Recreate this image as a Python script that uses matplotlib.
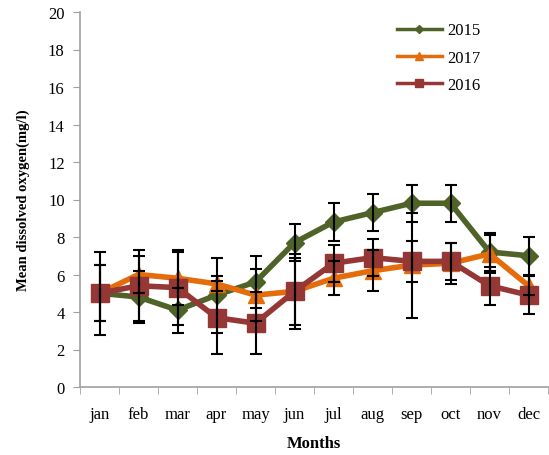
import matplotlib
matplotlib.use("Agg")
import matplotlib.pyplot as plt
from matplotlib.lines import Line2D
import numpy as np

months = ["jan", "feb", "mar", "apr", "may", "jun", "jul", "aug", "sep", "oct", "nov", "dec"]
y2015 = [5.0, 4.8, 4.1, 4.9, 5.6, 7.7, 8.8, 9.3, 9.8, 9.8, 7.2, 7.0]
e2015 = [2.2, 1.4, 1.2, 2.0, 1.4, 1.0, 1.0, 1.0, 1.0, 1.0, 1.0, 1.0]
y2017 = [5.0, 6.0, 5.8, 5.5, 4.9, 5.1, 5.8, 6.2, 6.5, 6.6, 7.1, 5.4]
e2017 = [1.5, 1.0, 1.4, 0.4, 1.4, 1.8, 0.9, 1.1, 2.8, 1.1, 1.0, 0.5]
y2016 = [5.0, 5.4, 5.3, 3.7, 3.4, 5.1, 6.6, 6.9, 6.7, 6.7, 5.4, 4.9]
e2016 = [1.5, 1.9, 2.0, 1.95, 1.65, 2.0, 1.0, 1.0, 1.1, 1.0, 1.0, 1.0]

plt.rcParams['font.family'] = ['Liberation Serif', 'DejaVu Serif']

fig = plt.figure(figsize=(5.49, 4.56), dpi=100)
ax = fig.add_axes([80/549, 68/456, 468/549, 375/456])
x = np.arange(len(months))

series = [
    ("2015", y2015, e2015, "#4F6228", "D", 9, 4.5),
    ("2017", y2017, e2017, "#E46C0A", "^", 11, 5.5),
    ("2016", y2016, e2016, "#953735", "s", 12.5, 6),
]
handles = []
for i, (lab, y, e, c, m, ms, lms) in enumerate(series):
    ax.plot(x, y, color=c, lw=4, marker=m, markersize=ms, zorder=2 + i)
    handles.append(Line2D([], [], color=c, lw=2.5, marker=m, markersize=lms, label=lab))
for i, (lab, y, e, c, m, ms, lms) in enumerate(series):
    ax.errorbar(x, y, yerr=e, fmt="none", ecolor="black", elinewidth=1.5,
                capsize=4.5, capthick=1.5, zorder=10)

ax.set_xlim(-0.5, 11.5)
ax.set_ylim(0, 20)
ax.set_yticks(range(0, 21, 2))
ax.set_xticks(x)
ax.set_xticklabels(months)
ax.set_xticks(np.arange(-0.5, 12, 1), minor=True)
ax.tick_params(axis="x", which="major", length=0, pad=14, labelsize=12)
ax.tick_params(axis="x", which="minor", length=5, color="#A0A0A0", direction="out")
ax.tick_params(axis="y", length=5, color="#A0A0A0", labelsize=12, pad=6)
for s in ["top", "right"]:
    ax.spines[s].set_visible(False)
for s in ["left", "bottom"]:
    ax.spines[s].set_color("#A0A0A0")
    ax.spines[s].set_linewidth(1.2)

ax.set_xlabel("Months", fontsize=12, fontweight="bold", labelpad=9)
ax.set_ylabel("Mean dissolved oxygen(mg/l)", fontsize=10.5, fontweight="bold", labelpad=13)

leg = ax.legend(handles=handles, loc="upper left", bbox_to_anchor=(0.645, 1.012), frameon=False,
                fontsize=12, handlelength=2.7, labelspacing=0.68, handletextpad=0.3)

fig.savefig("out.png", dpi=100)
